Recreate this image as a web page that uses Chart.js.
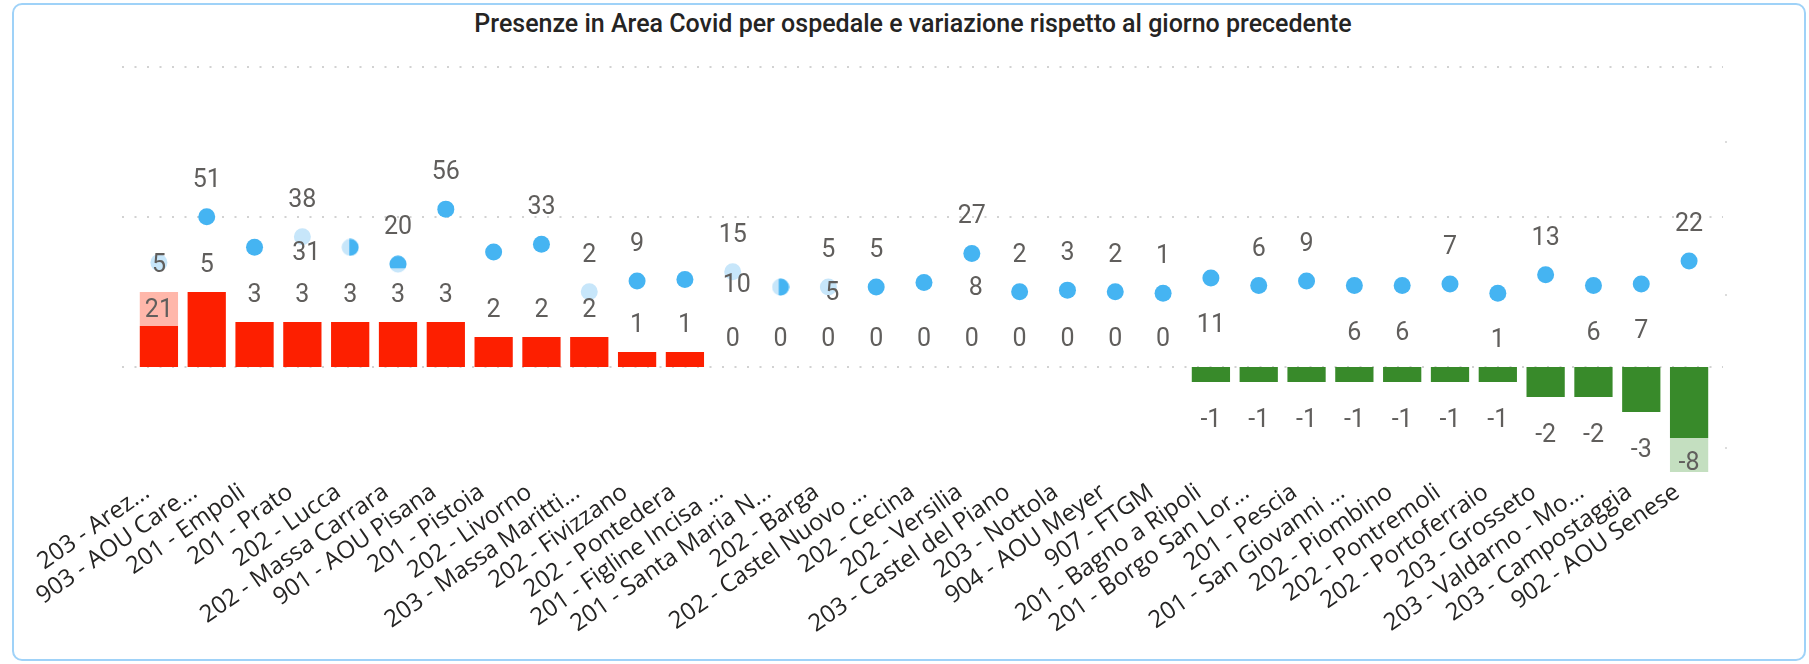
<!DOCTYPE html>
<html>
<head>
<meta charset="utf-8">
<script src="https://cdn.jsdelivr.net/npm/chart.js@4.4.0/dist/chart.umd.min.js"></script>
<style>
  html, body { margin: 0; padding: 0; background: #fff; }
  body { width: 1809px; height: 664px; position: relative; overflow: hidden; }
  #box { position: absolute; left: 12px; top: 3px; width: 1794px; height: 658px; border: 2px solid #9fd2f8; border-radius: 10px; box-sizing: border-box; }
  #titolo { position: absolute; left: 13px; width: 1800px; top: 11px; text-align: center; font-family: Roboto, sans-serif; font-weight: 500; font-size: 25px; line-height: 25px; color: #252423; white-space: nowrap; }
  #grafico { position: absolute; left: 0; top: 0; }
</style>
</head>
<body>
<div id="box"></div>
<div id="titolo">Presenze in Area Covid per ospedale e variazione rispetto al giorno precedente</div>
<canvas id="grafico" width="1809" height="664"></canvas>
<script>
// dati
const ospedali = [
    "203 - Arez...", "903 - AOU Care...", "201 - Empoli", "201 - Prato", "202 - Lucca",
    "202 - Massa Carrara", "901 - AOU Pisana", "201 - Pistoia", "202 - Livorno", "203 - Massa Maritti...",
    "202 - Fivizzano", "202 - Pontedera", "201 - Figline Incisa ...", "201 - Santa Maria N...", "202 - Barga",
    "202 - Castel Nuovo ...", "202 - Cecina", "202 - Versilia", "203 - Castel del Piano", "203 - Nottola",
    "904 - AOU Meyer", "907 - FTGM", "201 - Bagno a Ripoli", "201 - Borgo San Lor...", "201 - Pescia",
    "201 - San Giovanni ...", "202 - Piombino", "202 - Pontremoli", "202 - Portoferraio", "203 - Grosseto",
    "203 - Valdarno - Mo...", "203 - Campostaggia", "902 - AOU Senese"
];
const variazione = [5, 5, 3, 3, 3, 3, 3, 2, 2, 2, 1, 1, 0, 0, 0, 0, 0, 0, 0, 0, 0, 0,
    -1, -1, -1, -1, -1, -1, -1, -2, -2, -3, -8];
const presenze = [21, 51, 31, 38, 31, 20, 56, 28, 33, 2, 9, 10, 15, 5, 5, 5, 8, 27, 2, 3, 2, 1,
    11, 6, 9, 6, 6, 7, 1, 13, 6, 7, 22];
const gridVariazione = [0, 10, 20];
const tickPresenze = [-100, 0, 100];

// stile: dove sta l'etichetta del punto (a = sopra, b = sotto, n = spostata a destra, - = nascosta)
const posEtichetta = ["b","a","n","a","-","a","a","-","a","a","a","n","a","n","a","a","n","a","a","a","a","a",
    "b","a","a","b","b","a","b","a","b","b","a"];
const puntiChiari = [0, 3, 9, 12, 14];
const puntiMezzi = { 4: [0.45, false], 5: [0.27, true], 13: [0.4, false] }; // punti in parte chiari
const sfumatura = { 0: 2.73, 32: -4.73 }; // parte chiara delle barre (evidenziazione)

const ROSSO = '#fd1f00', ROSA = '#ffb7aa', VERDE = '#388a2a', VERDE_CHIARO = '#c4dfc0';
const BLU = '#45b4f2', BLU_CHIARO = '#c7e6fa';
const FONT_NUM = "25px 'Liberation Sans Narrow', Roboto, sans-serif";

function coloreBarra(c) {
    const i = c.dataIndex, v = variazione[i];
    const base = v >= 0 ? ROSSO : VERDE;
    const area = c.chart.chartArea;
    if (!(i in sfumatura) || !area) return base;
    const chiaro = v >= 0 ? ROSA : VERDE_CHIARO;
    const y = c.chart.scales.y.getPixelForValue(sfumatura[i]);
    const t = Math.min(1, Math.max(0, (y - area.top) / (area.bottom - area.top)));
    const g = c.chart.ctx.createLinearGradient(0, area.top, 0, area.bottom);
    const sopra = v >= 0 ? chiaro : base, sotto = v >= 0 ? base : chiaro;
    g.addColorStop(0, sopra); g.addColorStop(t, sopra);
    g.addColorStop(t, sotto); g.addColorStop(1, sotto);
    return g;
}

// punto mezzo chiaro: frazione chiara a sinistra o in basso
function puntoDiviso(frazione, inBasso) {
    const d = 18, r = 8.5;
    const c = document.createElement('canvas');
    c.width = d; c.height = d;
    const g = c.getContext('2d');
    g.beginPath(); g.arc(d / 2, d / 2, r, 0, Math.PI * 2);
    g.fillStyle = BLU_CHIARO; g.fill();
    g.save(); g.clip();
    g.fillStyle = BLU;
    if (inBasso) g.fillRect(0, 0, d, d * (1 - frazione));
    else g.fillRect(d * frazione, 0, d, d);
    g.restore();
    return c;
}

// griglia puntinata un po' più larga dell'area, come in Power BI
const griglia = {
    id: 'griglia',
    beforeDatasetsDraw(chart) {
        const { ctx, chartArea, scales } = chart;
        ctx.save();
        ctx.strokeStyle = '#d2d2d2';
        ctx.lineWidth = 2;
        ctx.setLineDash([2, 10.5]);
        scales.y.ticks.forEach(t => {
            const y = Math.round(scales.y.getPixelForValue(t.value));
            ctx.beginPath();
            ctx.moveTo(chartArea.left - 13, y);
            ctx.lineTo(chartArea.right + 10, y);
            ctx.stroke();
        });
        ctx.setLineDash([]);
        ctx.fillStyle = '#dcdcdc';
        scales.y2.ticks.forEach(t => {
            const y = Math.round(scales.y2.getPixelForValue(t.value));
            ctx.fillRect(chartArea.right + 12, y - 1, 2, 2);
        });
        ctx.restore();
    }
};

const etichette = {
    id: 'etichette',
    afterDatasetsDraw(chart) {
        const { ctx, chartArea, scales } = chart;
        ctx.save();
        ctx.font = FONT_NUM;
        ctx.fillStyle = '#605e5c';
        ctx.textAlign = 'center';
        ctx.textBaseline = 'alphabetic';
        const mezza = 9; // metà altezza cifre
        const zero = scales.y.getPixelForValue(0);
        chart.getDatasetMeta(0).data.forEach((b, i) => {
            const v = variazione[i];
            let y;
            if (v > 0) y = b.y - 29;
            else if (v === 0) y = zero - 30;
            else y = b.y > chartArea.bottom ? chartArea.bottom - 11 : b.y + 36;
            ctx.fillText(String(v), b.x, y + mezza);
        });
        const punti = chart.getDatasetMeta(1).data;
        const passo = punti[1].x - punti[0].x;
        punti.forEach((p, i) => {
            const pos = posEtichetta[i];
            if (pos === '-') return;
            let x = p.x, y = p.y;
            if (pos === 'a') y -= 39;
            else if (pos === 'b') y += 45;
            else if (pos === 'n') { x += passo + 4; y += 4; }
            ctx.fillText(String(presenze[i]), x, y + mezza);
        });
        ctx.restore();
    }
};

new Chart(document.getElementById('grafico'), {
    type: 'bar',
    data: {
        labels: ospedali,
        datasets: [{
            label: 'Variazione',
            data: variazione,
            backgroundColor: coloreBarra,
            barPercentage: 0.8,
            categoryPercentage: 1,
            yAxisID: 'y',
            order: 2,
            clip: 0
        }, {
            type: 'line',
            label: 'Presenze',
            data: presenze,
            showLine: false,
            pointRadius: 8.5,
            pointHoverRadius: 8.5,
            pointBorderWidth: 0,
            pointStyle: presenze.map((_, i) => i in puntiMezzi ? puntoDiviso(...puntiMezzi[i]) : 'circle'),
            pointBackgroundColor: presenze.map((_, i) => puntiChiari.includes(i) ? BLU_CHIARO : BLU),
            yAxisID: 'y2',
            order: 1
        }]
    },
    options: {
        responsive: false,
        devicePixelRatio: 1,
        animation: false,
        layout: { autoPadding: false, padding: { left: 135, right: 96, top: 67, bottom: 12 } },
        plugins: { legend: { display: false }, tooltip: { enabled: false } },
        scales: {
            x: {
                offset: true,
                grid: { display: false, drawTicks: false },
                border: { display: false },
                ticks: {
                    autoSkip: false, minRotation: 35, maxRotation: 35, padding: 6, labelOffset: -12,
                    color: '#252423', font: { family: "'Open Sans', sans-serif", size: 24 }
                },
                afterFit: s => { s.height = 180; }
            },
            y: {
                display: false, min: -7, max: 20,
                afterBuildTicks: s => { s.ticks = gridVariazione.map(v => ({ value: v })); }
            },
            y2: {
                position: 'right', display: false, min: -116, max: 149,
                afterBuildTicks: s => { s.ticks = tickPresenze.map(v => ({ value: v })); }
            }
        }
    },
    plugins: [griglia, etichette]
});
</script>
</body>
</html>
